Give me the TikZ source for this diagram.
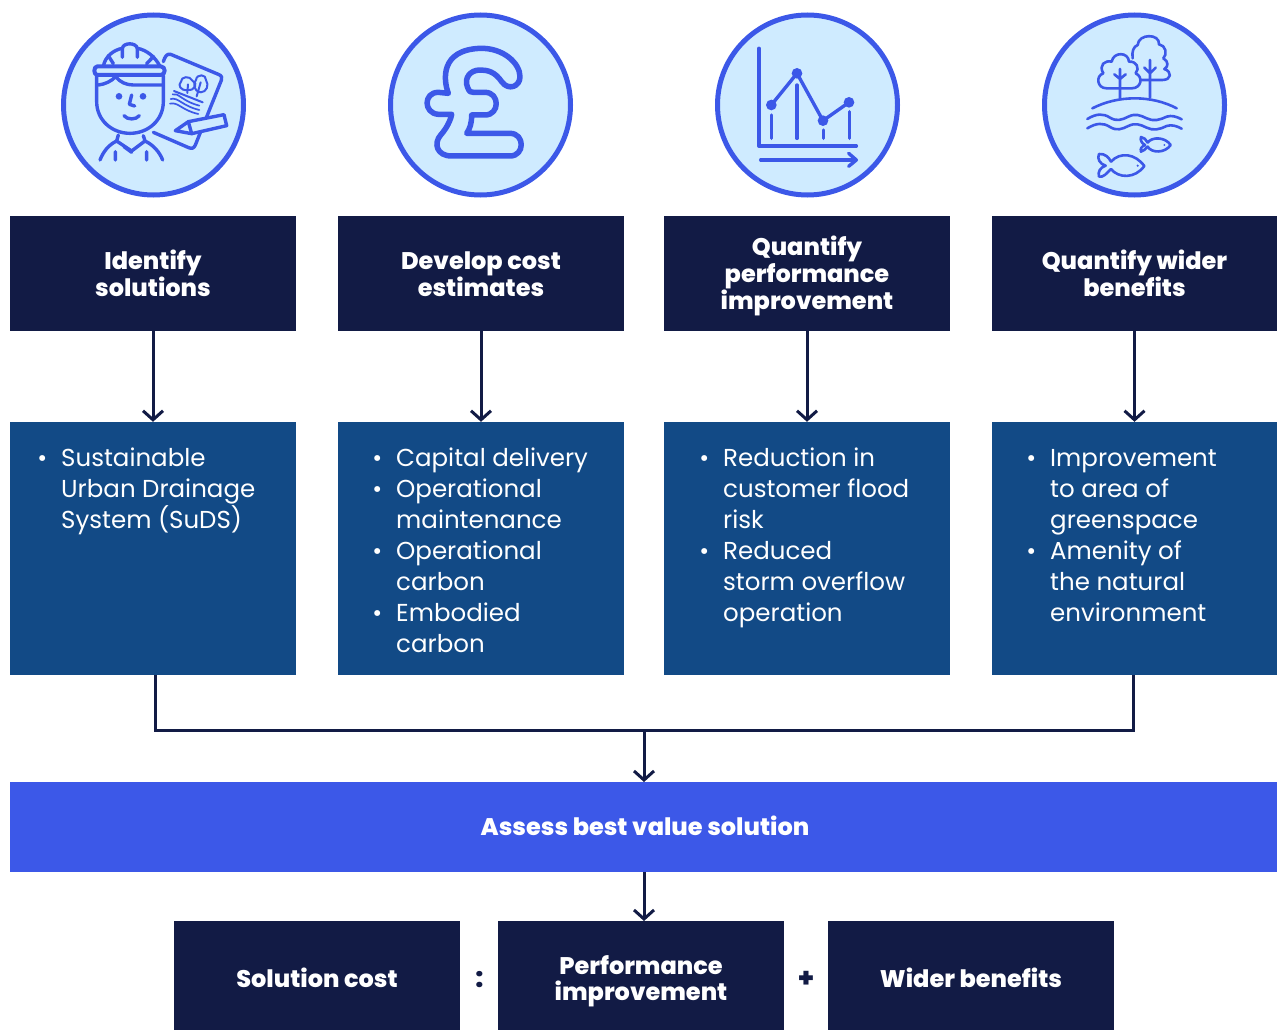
\documentclass[tikz,border=0pt]{standalone}
\usepackage{fontspec}
\setmainfont{Poppins}[BoldFont={Poppins ExtraBold}]
\usetikzlibrary{arrows.meta,calc}
\definecolor{navy}{HTML}{121B45}
\definecolor{midblue}{HTML}{124A86}
\definecolor{bright}{HTML}{3C58E8}
\definecolor{pale}{HTML}{CFEBFF}
\newcommand{\bul}{\leavevmode\llap{\fontsize{24}{31}\selectfont•\hspace{14pt}}}
\newcommand{\fl}{\vphantom{(}}
\tikzset{
 headbox/.style={fill=navy,minimum width=286pt,minimum height=115pt,inner sep=0pt},
 lab/.style={text=white,inner sep=0pt,align=center,font=\fontsize{24}{26.7}\selectfont\bfseries},
 detailbox/.style={fill=midblue,minimum width=286pt,minimum height=253pt,inner sep=0pt},
 detailtext/.style={anchor=north west,inner sep=0pt,text=white,align=left,font=\fontsize{24.5}{31}\selectfont},
 flow/.style={draw=navy,line width=3pt,-{Straight Barb[length=9pt,width=20pt,line width=3pt]}},
 link/.style={draw=navy,line width=3pt},
 disc/.style={draw=bright,fill=pale,line width=5pt},
 ico/.style={draw=bright,line width=3.4pt,line cap=round,line join=round},
 thin/.style={draw=bright,line width=2pt,line cap=round,line join=round},
 hair/.style={draw=bright,line width=1.4pt,line cap=round,line join=round},
}
\begin{document}
\begin{tikzpicture}[x=1pt,y=-1pt]
\useasboundingbox (0,0) rectangle (1277,1030);
% discs
\node[disc,circle,minimum size=180pt,inner sep=0pt] (c1) at (153.5,105) {};
\node[disc,circle,minimum size=180pt,inner sep=0pt] (c2) at (480.5,105) {};
\node[disc,circle,minimum size=180pt,inner sep=0pt] (c3) at (807.5,105) {};
\node[disc,circle,minimum size=180pt,inner sep=0pt] (c4) at (1134.5,105) {};
% heads
\node[headbox] (h1) at (153,273.5) {};
\node[headbox] (h2) at (481,273.5) {};
\node[headbox] (h3) at (807,273.5) {};
\node[headbox,minimum width=285pt] (h4) at (1134.5,273.5) {};
\node[lab] (l1) at (153,273.2) {Identify\\solutions};
\node[lab] (l2) at (481,274) {Develop cost\\estimates};
\node[lab] (l3) at (807,276) {Quantify\\performance\\improvement};
\node[lab] (l4) at (1134.5,273.5) {Quantify wider\\benefits};
% details
\node[detailbox] (d1) at (153,548.5) {};
\node[detailbox] (d2) at (481,548.5) {};
\node[detailbox] (d3) at (807,548.5) {};
\node[detailbox,minimum width=285pt] (d4) at (1134.5,548.5) {};
\node[detailtext] (t1) at (61,443.5) {\fl\bul Sustainable\\Urban Drainage\\System (SuDS)};
\node[detailtext] (t2) at (396,443.5) {\fl\bul Capital delivery\\\bul Operational\\maintenance\\\bul Operational\\carbon\\\bul Embodied\\carbon};
\node[detailtext] (t3) at (723,443.5) {\fl\bul Reduction in\\customer flood\\risk\\\bul Reduced\\storm overflow\\operation};
\node[detailtext] (t4) at (1050,443.5) {\fl\bul Improvement\\to area of\\greenspace\\\bul Amenity of\\the natural\\environment};
% assess
\node[fill=bright,minimum width=1267pt,minimum height=90pt,inner sep=0pt] (a) at (643.5,827) {};
\node[lab] (al) at (645,826) {Assess best value solution};
% results
\node[headbox,minimum height=109pt] (r1) at (317,975.5) {};
\node[headbox,minimum height=109pt] (r2) at (641,975.5) {};
\node[headbox,minimum height=109pt] (r3) at (971,975.5) {};
\node[lab] (rl1) at (317,978) {Solution cost};
\node[lab] (rl2) at (641,981.3) {Performance\\improvement};
\node[lab] (rl3) at (971,978) {Wider benefits};
\node[text=navy,inner sep=0pt,font=\fontsize{27}{27}\selectfont\bfseries] (op1) at (479.5,979.5) {:};
\node[text=navy,inner sep=0pt,font=\fontsize{27}{27}\selectfont\bfseries] (op2) at (806,979.5) {+};
% connectors
\draw[flow] (h1) -- (d1.north);
\draw[flow] (h2) -- (d2.north);
\draw[flow] (h3) -- (d3.north);
\draw[flow] (h4) -- (d4.north);
\coordinate (jl) at ($(d1.south)+(2,0)$);
\coordinate (jr) at ($(d4.south)+(-1.5,0)$);
\coordinate (jm) at (644,730);
\draw[link,line join=miter] (jl) |- (jm) -| (jr);
\coordinate (am) at (644,782);
\coordinate (ab) at (644,872);
\coordinate (rt) at (644,921);
\draw[flow] (jm) -- (am);
\draw[flow] (ab) -- (rt);
% icon 1
\begin{scope}[shift={(50,5)},scale=1/3]
 \draw[ico,fill=pale] (362,148) -- (505,208) .. controls (515,212) and (518,218) .. (514,226) -- (436,420) .. controls (432,430) and (425,432) .. (416,428) -- (310,382);
 \draw[ico] (362,148) .. controls (350,145) and (345,155) .. (340,170);
 \draw[ico,fill=pale] (376,377) -- (415,350) -- (522,329) -- (530,362) -- (425,386) -- cycle;
 \draw[ico] (415,350) -- (425,386);
 \draw[thin] (372,258) -- (458,292);
 \draw[hair,line width=1.7pt] (368,268) .. controls (385,262) and (395,288) .. (448,302);
 \draw[hair,line width=1.7pt] (362,282) .. controls (385,276) and (395,302) .. (448,315);
 \draw[hair,line width=1.7pt] (360,296) .. controls (385,290) and (395,316) .. (445,327);
 \draw[thin] (412,255) .. controls (392,258) and (382,240) .. (393,230) .. controls (392,215) and (420,210) .. (428,228) .. controls (445,235) and (435,258) .. (412,255);
 \draw[thin] (452,262) .. controls (430,258) and (428,235) .. (438,225) .. controls (440,205) and (470,208) .. (468,225) .. controls (478,240) and (470,262) .. (452,262);
 \draw[thin] (414,238) -- (412,264) (452,232) -- (440,274);
 \draw[ico,line width=4pt] (142,184) -- (332,184) .. controls (348,184) and (348,210) .. (332,210) -- (142,210) .. controls (130,210) and (130,184) .. (142,184);
 \draw[ico] (160,184) .. controls (165,155) and (190,135) .. (217,130) .. controls (220,112) and (258,112) .. (262,130) .. controls (290,135) and (315,155) .. (330,184);
 \draw[ico] (217,130) -- (217,157) (262,130) -- (262,157) (175,152) -- (190,176) (310,155) -- (290,176);
 \draw[ico] (140,212) -- (140,290) .. controls (140,345) and (185,385) .. (240,385) .. controls (295,385) and (340,345) .. (340,290) -- (340,212);
 \draw[ico] (145,240) .. controls (165,238) and (185,228) .. (197,215) .. controls (210,232) and (230,240) .. (250,240) -- (338,240);
 \fill[bright] (207,274) circle (10) (279,274) circle (10);
 \draw[ico] (245,270) -- (238,298) -- (254,303);
 \draw[ico] (222,332) .. controls (232,345) and (258,345) .. (268,332);
 \draw[ico] (205,390) -- (200,408) -- (245,438) -- (285,408) -- (280,392);
 \draw[ico] (200,408) .. controls (175,420) and (160,440) .. (150,465);
 \draw[ico] (285,408) .. controls (310,420) and (328,440) .. (338,465);
 \draw[ico] (196,440) -- (196,465) (290,440) -- (290,465) (222,425) -- (245,442);
\end{scope}
% icon 2
\begin{scope}[shift={(380,5)},scale=1/3]
 \draw[ico,line width=5.5pt] (205,265) .. controls (190,225) and (180,135) .. (300,130) .. controls (370,128) and (420,175) .. (420,215) .. controls (420,245) and (385,258) .. (365,230) .. controls (345,200) and (322,195) .. (300,195) .. controls (270,195) and (252,220) .. (262,245) .. controls (268,262) and (272,262) .. (280,262) -- (315,262) .. controls (360,262) and (360,330) .. (315,330) -- (275,330) .. controls (275,355) and (270,370) .. (260,385) -- (390,385) .. controls (435,385) and (435,453) .. (390,453) -- (215,453) .. controls (170,453) and (160,415) .. (182,390) .. controls (200,370) and (212,345) .. (215,328) -- (175,328) .. controls (130,325) and (130,262) .. (175,262) -- cycle;
\end{scope}
% icon 3
\begin{scope}[shift={(708,5)},scale=1/3]
 \draw[ico] (153,130) -- (153,423) -- (445,423);
 \draw[ico] (158,465) -- (443,465);
 \draw[ico] (422,445) -- (445,465) -- (422,484);
 \draw[ico] (190,300) -- (267,205) -- (345,347) -- (423,292);
 \fill[bright] (190,300) circle (16) (267,205) circle (16) (345,347) circle (16) (423,292) circle (16);
 \draw[ico] (190,330) -- (190,400) (267,240) -- (267,400) (346,375) -- (346,400) (424,320) -- (424,400);
\end{scope}
% icon 4
\begin{scope}[shift={(1035,5)},scale=1/3]
 \draw[thin,line width=2.6pt] (172,310) .. controls (250,270) and (350,270) .. (425,310);
 \draw[thin,line width=2.6pt] (255,280) -- (255,192) (255,222) -- (238,208) (255,222) -- (272,208);
 \draw[thin,line width=2.6pt] (345,278) -- (345,165) (345,205) -- (328,188) (345,205) -- (362,188);
 \draw[thin,line width=2.6pt] (215,250) .. controls (185,250) and (182,212) .. (205,205) .. controls (190,180) and (210,165) .. (230,170) .. controls (235,140) and (280,140) .. (282,170) .. controls (305,168) and (315,190) .. (302,205) .. controls (325,215) and (320,250) .. (290,250) -- cycle;
 \draw[thin,line width=2.6pt] (293,160) .. controls (290,140) and (295,125) .. (308,120) .. controls (310,85) and (375,85) .. (372,118) .. controls (392,120) and (398,148) .. (385,160) .. controls (402,170) and (400,185) .. (388,192) .. controls (412,200) and (410,225) .. (382,225) -- (318,225);
 \draw[thin,line width=2.6pt] (157,342) .. controls (185,325) and (205,325) .. (225,338) .. controls (245,350) and (260,345) .. (280,335) .. controls (300,325) and (315,330) .. (335,340) .. controls (355,350) and (375,345) .. (395,335) .. controls (410,330) and (425,335) .. (440,343);
 \draw[thin,line width=2.6pt] (157,370) .. controls (185,353) and (205,353) .. (225,366) .. controls (245,378) and (260,373) .. (280,363) .. controls (300,353) and (315,358) .. (335,368) .. controls (355,378) and (375,373) .. (395,363) .. controls (410,358) and (425,363) .. (440,371);
 \draw[thin,line width=2.6pt] (338,413) .. controls (350,395) and (390,395) .. (407,420) .. controls (390,445) and (350,445) .. (338,425) .. controls (330,432) and (325,440) .. (318,440) .. controls (315,430) and (320,425) .. (330,420) .. controls (320,415) and (315,405) .. (318,396) .. controls (328,396) and (332,405) .. (338,413);
 \draw[thin,line width=2.6pt] (228,470) .. controls (255,440) and (300,445) .. (328,483) .. controls (300,522) and (250,520) .. (228,492) .. controls (215,505) and (205,518) .. (192,515) .. controls (188,500) and (195,488) .. (212,482) .. controls (195,478) and (185,460) .. (192,447) .. controls (210,445) and (222,458) .. (228,470);
 \fill[bright] (308,482) circle (3.5) (388,420) circle (3);
\end{scope}
\end{tikzpicture}
\end{document}
